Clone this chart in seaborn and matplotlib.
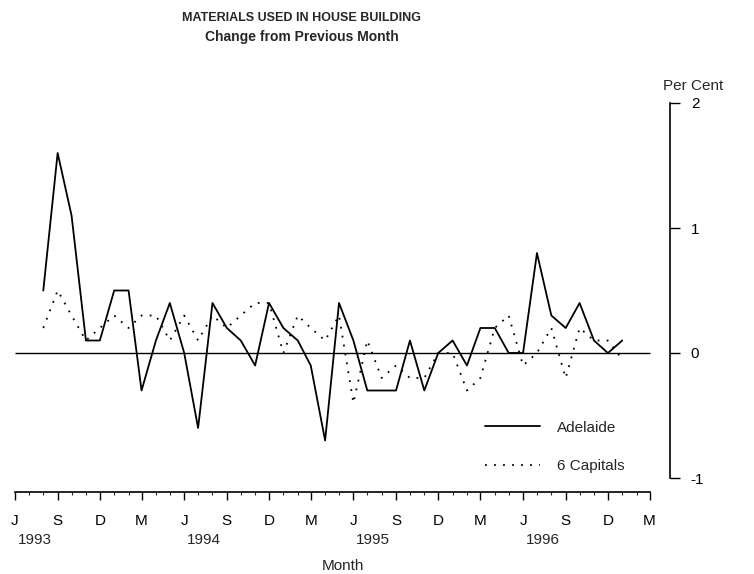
import matplotlib
matplotlib.use('Agg')
import matplotlib.pyplot as plt
import matplotlib.dates as mdates
import matplotlib.ticker as mticker
import matplotlib.transforms as mtransforms
import pandas as pd
import seaborn as sns

# monthly % change, Aug 1993 .. Jan 1997
months = pd.date_range('1993-08-01', periods=42, freq='MS')
adelaide = [0.5, 1.6, 1.1, 0.1, 0.1, 0.5, 0.5, -0.3, 0.1, 0.4, 0.0, -0.6,
            0.4, 0.2, 0.1, -0.1, 0.4, 0.2, 0.1, -0.1, -0.7, 0.4, 0.1, -0.3,
            -0.3, -0.3, 0.1, -0.3, 0.0, 0.1, -0.1, 0.2, 0.2, 0.0, 0.0, 0.8,
            0.3, 0.2, 0.4, 0.1, 0.0, 0.1]
capitals = [0.2, 0.5, 0.3, 0.1, 0.2, 0.3, 0.2, 0.3, 0.3, 0.1, 0.3, 0.1,
            0.3, 0.2, 0.3, 0.4, 0.4, 0.0, 0.3, 0.2, 0.1, 0.3, -0.4, 0.1,
            -0.2, -0.1, -0.2, -0.2, 0.0, 0.0, -0.3, -0.2, 0.2, 0.3, -0.1, 0.0,
            0.2, -0.2, 0.2, 0.1, 0.1, -0.05]

tick_months = pd.date_range('1993-06-01', '1997-03-01', freq='3MS')
minor_months = pd.date_range('1993-06-01', '1997-03-01', freq='MS')
tick_letters = ['J', 'S', 'D', 'M'] * 4
years = ['1993', '1994', '1995', '1996']
y_ticks = [-1, 0, 1, 2]

df = pd.DataFrame({'month': months, 'Adelaide': adelaide, '6 Capitals': capitals})

sns.set_style('white')
plt.rcParams['font.family'] = ['Liberation Sans', 'DejaVu Sans']

fig = plt.figure(figsize=(7.54, 5.74), dpi=100)
ax = fig.add_axes([15 / 754, 1 - 492 / 574, (670 - 15) / 754, (492 - 100) / 574])

sns.lineplot(data=df, x='month', y='Adelaide', ax=ax, color='black', lw=1.3,
             label='Adelaide')
sns.lineplot(data=df, x='month', y='6 Capitals', ax=ax, color='black', lw=1.3,
             linestyle=(0, (1, 4)), label='6 Capitals')

x0 = pd.Timestamp('1993-06-01')
x1 = pd.Timestamp('1997-03-01')
ax.hlines(0, x0, x1, color='black', lw=1)

ax.set_xlim(x0, pd.Timestamp('1997-04-14'))
ax.set_ylim(-1.112, 2.024)

for s in ['left', 'top']:
    ax.spines[s].set_visible(False)
ax.spines['bottom'].set_bounds(mdates.date2num(x0), mdates.date2num(x1))
ax.spines['right'].set_bounds(-1, 2)
for s in ['bottom', 'right']:
    ax.spines[s].set_color('black')
    ax.spines[s].set_linewidth(1.2)

ax.set_xticks(tick_months)
ax.set_xticklabels(tick_letters, fontsize=11)
ax.xaxis.set_minor_locator(mticker.FixedLocator(mdates.date2num(minor_months)))
ax.tick_params(axis='x', which='major', direction='out', length=6, width=1,
               pad=10, colors='black', bottom=True)
ax.tick_params(axis='x', which='minor', direction='out', length=2, width=0.8,
               bottom=True)

ax.yaxis.tick_right()
ax.set_yticks(y_ticks)
ax.set_yticklabels([str(v) for v in y_ticks], fontsize=11)
ax.tick_params(axis='y', direction='out', length=7, width=1, pad=8,
               colors='black', right=True, left=False)
ax.set_xlabel('Month', fontsize=11, labelpad=22)
ax.set_ylabel('')

trans = mtransforms.blended_transform_factory(ax.transData, ax.transAxes)
for i, yr in enumerate(years):
    ax.text(tick_months[i * 4] + pd.Timedelta(days=6), -0.105, yr,
            transform=trans, fontsize=11, ha='left', va='top')

fig.text(693 / 754, 1 - 86 / 574, 'Per Cent', fontsize=11, ha='center', va='center')
fig.text(301 / 754, 1 - 18 / 574, 'MATERIALS USED IN HOUSE BUILDING',
         fontsize=9, fontweight='bold', ha='center', va='center')
fig.text(302 / 754, 1 - 37 / 574, 'Change from Previous Month',
         fontsize=10, fontweight='bold', ha='center', va='center')

ax.legend(loc='center left', bbox_to_anchor=(485 / 754, 1 - 447 / 574),
          bbox_transform=fig.transFigure, frameon=False, fontsize=11,
          handlelength=3.6, handletextpad=1.1, labelspacing=1.6,
          borderaxespad=0, borderpad=0)

fig.savefig('out.png', dpi=100)
